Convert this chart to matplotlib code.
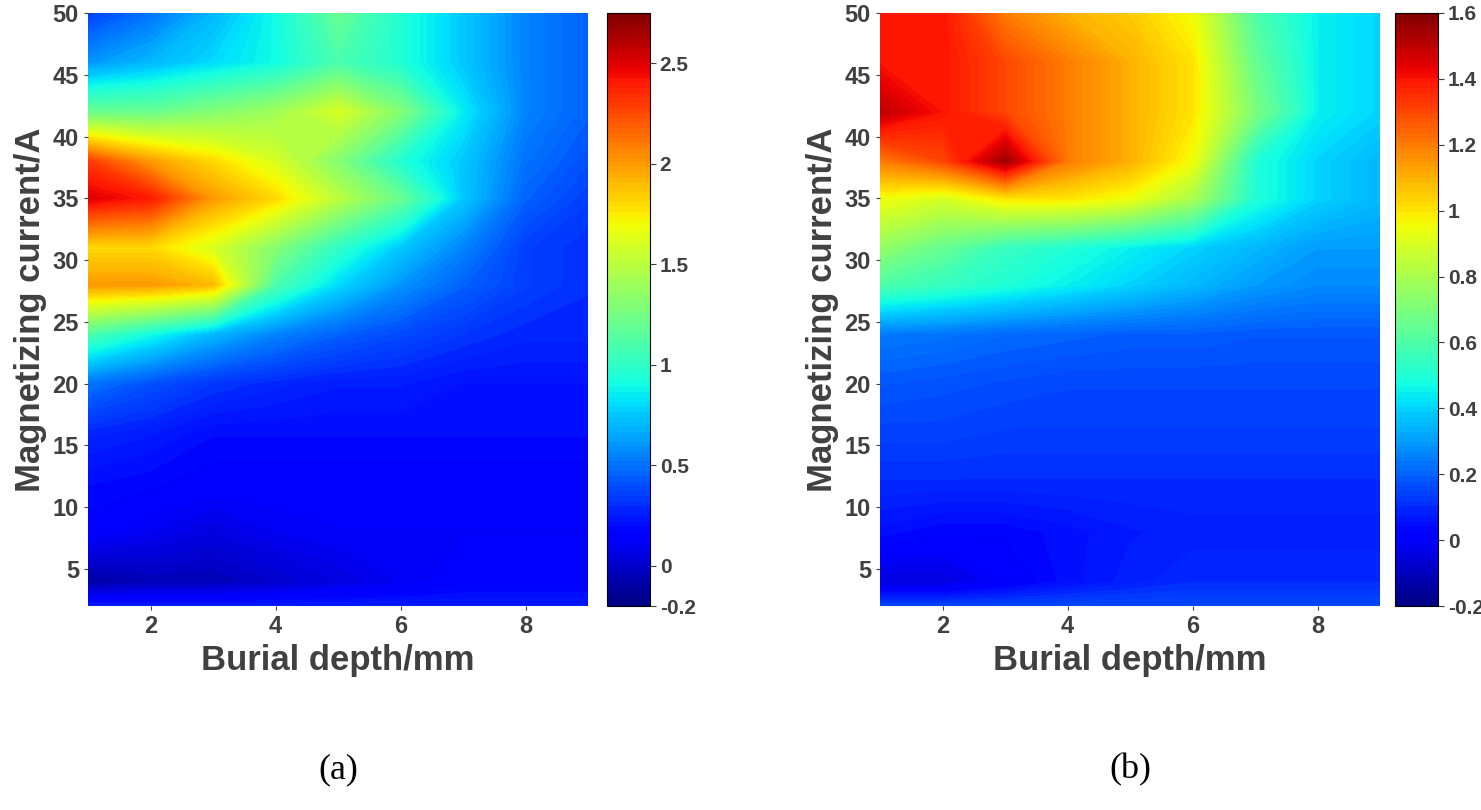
import numpy as np
import matplotlib.pyplot as plt

depth = [1, 2, 3, 4, 5, 6, 7, 8, 9]
current = [2, 4, 8, 12, 16, 20, 24, 28, 31, 35, 38, 42, 46, 50]

za = [
    [0.25, 0.25, 0.25, 0.25, 0.25, 0.25, 0.25, 0.25, 0.25],
    [-0.1, -0.05, -0.05, 0.0, 0.05, 0.1, 0.15, 0.15, 0.15],
    [0.15, 0.1, 0.05, 0.1, 0.12, 0.12, 0.12, 0.12, 0.12],
    [0.2, 0.18, 0.15, 0.15, 0.15, 0.15, 0.15, 0.15, 0.15],
    [0.28, 0.25, 0.2, 0.2, 0.2, 0.2, 0.2, 0.2, 0.2],
    [0.5, 0.4, 0.32, 0.28, 0.25, 0.25, 0.22, 0.22, 0.22],
    [1.1, 0.9, 0.7, 0.55, 0.45, 0.38, 0.32, 0.28, 0.28],
    [2.0, 2.0, 1.9, 1.1, 0.8, 0.6, 0.45, 0.35, 0.3],
    [1.8, 1.8, 1.6, 1.3, 1.0, 0.75, 0.55, 0.35, 0.3],
    [2.5, 2.4, 2.0, 1.8, 1.5, 1.2, 0.75, 0.45, 0.35],
    [2.3, 2.0, 1.8, 1.6, 1.3, 0.95, 0.75, 0.5, 0.4],
    [1.2, 1.2, 1.3, 1.4, 1.6, 1.3, 0.85, 0.55, 0.45],
    [0.6, 0.7, 0.8, 0.9, 1.1, 0.95, 0.75, 0.55, 0.45],
    [0.35, 0.5, 0.7, 0.9, 1.2, 0.95, 0.75, 0.55, 0.45],
]

zb = [
    [0.15, 0.15, 0.15, 0.15, 0.15, 0.15, 0.15, 0.15, 0.15],
    [-0.05, -0.05, 0.0, 0.05, 0.08, 0.1, 0.1, 0.1, 0.1],
    [0.05, 0.03, 0.03, 0.05, 0.07, 0.08, 0.08, 0.08, 0.08],
    [0.1, 0.1, 0.1, 0.1, 0.1, 0.1, 0.1, 0.1, 0.1],
    [0.14, 0.14, 0.13, 0.13, 0.13, 0.13, 0.13, 0.13, 0.13],
    [0.18, 0.17, 0.16, 0.15, 0.15, 0.15, 0.15, 0.15, 0.15],
    [0.24, 0.23, 0.21, 0.2, 0.19, 0.19, 0.18, 0.18, 0.18],
    [0.6, 0.55, 0.5, 0.45, 0.4, 0.35, 0.3, 0.27, 0.27],
    [0.75, 0.65, 0.55, 0.5, 0.45, 0.4, 0.35, 0.3, 0.3],
    [0.95, 0.9, 1.0, 1.0, 0.95, 0.8, 0.5, 0.4, 0.35],
    [1.2, 1.3, 1.55, 1.2, 1.1, 0.95, 0.5, 0.4, 0.35],
    [1.5, 1.4, 1.3, 1.2, 1.1, 1.0, 0.7, 0.45, 0.4],
    [1.4, 1.4, 1.3, 1.2, 1.1, 1.0, 0.65, 0.45, 0.4],
    [1.4, 1.4, 1.2, 1.1, 1.05, 0.95, 0.6, 0.45, 0.4],
]

plt.rcParams['font.family'] = ['Liberation Sans', 'DejaVu Sans']
grey = '#404040'
fig = plt.figure(figsize=(14.81, 8.1), dpi=100)

panels = [
    (za, (-0.2, 2.75), [-0.2, 0, 0.5, 1, 1.5, 2, 2.5], ['-0.2', '0', '0.5', '1', '1.5', '2', '2.5'], 88, 607, '(a)'),
    (zb, (-0.2, 1.6), [-0.2, 0, 0.2, 0.4, 0.6, 0.8, 1, 1.2, 1.4, 1.6], ['-0.2', '0', '0.2', '0.4', '0.6', '0.8', '1', '1.2', '1.4', '1.6'], 880, 1395, '(b)'),
]
W, H = 1481, 810
for z, (lo, hi), cticks, clabels, x0, cx0, tag in panels:
    ax = fig.add_axes([x0 / W, 1 - 606 / H, 500 / W, 593 / H])
    cax = fig.add_axes([cx0 / W, 1 - 606 / H, 43 / W, 593 / H])
    levels = np.linspace(lo, hi, 120)
    cf = ax.contourf(depth, current, np.clip(z, lo, hi), levels=levels, cmap='jet', vmin=lo, vmax=hi)
    ax.set_xlim(1, 9)
    ax.set_ylim(2, 50)
    ax.set_xticks([2, 4, 6, 8])
    ax.set_yticks([5, 10, 15, 20, 25, 30, 35, 40, 45, 50])
    ax.tick_params(labelsize=17, colors=grey, length=3)
    for lab in ax.get_xticklabels() + ax.get_yticklabels():
        lab.set_fontweight('bold')
    for s in ax.spines.values():
        s.set_visible(False)
    ax.set_xlabel('Burial depth/mm', fontsize=25, fontweight='bold', color=grey)
    ax.set_ylabel('Magnetizing current/A', fontsize=25, fontweight='bold', color=grey)
    cb = fig.colorbar(cf, cax=cax, ticks=cticks)
    cb.ax.set_yticklabels(clabels)
    cb.ax.tick_params(labelsize=15, colors=grey, length=4, pad=3)
    for lab in cb.ax.get_yticklabels():
        lab.set_fontweight('bold')
    cb.outline.set_linewidth(0.8)
    fig.text((x0 + 250) / W, 1 - 770 / H, tag, ha='center', va='center',
             fontsize=26, family=['Liberation Serif', 'DejaVu Serif'])

fig.savefig('out.png', dpi=100)
